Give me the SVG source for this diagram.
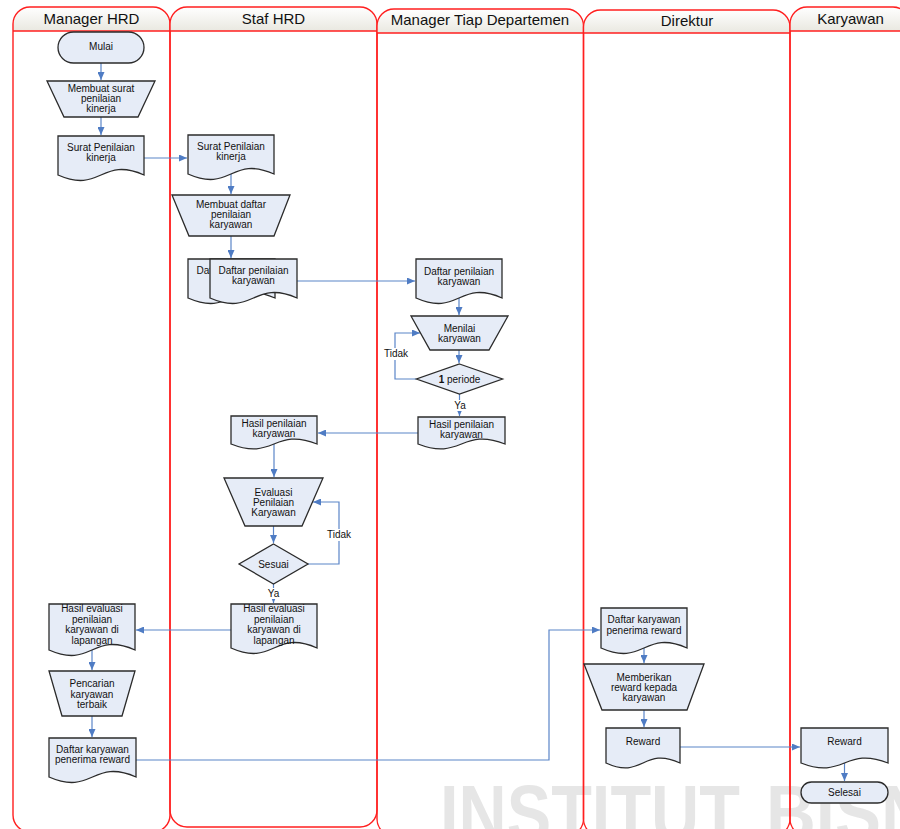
<svg xmlns="http://www.w3.org/2000/svg" width="900" height="829" viewBox="0 0 900 829">
<defs>
<linearGradient id="hg" x1="0" y1="0" x2="0" y2="1">
<stop offset="0" stop-color="#ffffff"/>
<stop offset="1" stop-color="#e9e8e0"/>
</linearGradient>
<marker id="ah" viewBox="0 0 8 7" refX="8" refY="3.5" markerWidth="8" markerHeight="7" markerUnits="userSpaceOnUse" orient="auto">
<path d="M0,0 L8,3.5 L0,7 z" fill="#4f7cc4"/>
</marker>
<style>
.hdr{fill:url(#hg);stroke:none}
.lane{fill:none;stroke:#ff1f1f;stroke-width:1.4}
.ht{font-family:"Liberation Sans",Arial,sans-serif;font-size:15px;fill:#111;text-anchor:middle}
.n{fill:#e6ecf7;stroke:#2b2b2b;stroke-width:1.3}
.t{font-family:"Liberation Sans",Arial,sans-serif;font-size:10px;fill:#111;text-anchor:middle}
.ca{fill:none;stroke:#5b85c8;stroke-width:1.2;marker-end:url(#ah)}
.lb{fill:#ffffff}
.wm{font-family:"Liberation Sans",Arial,sans-serif;font-weight:bold;font-size:80px;fill:#808080;fill-opacity:0.2}
</style>
</defs>
<rect width="900" height="829" fill="#ffffff"/>

<g id="watermark">
<text class="wm" x="440" y="841" textLength="300" lengthAdjust="spacingAndGlyphs">INSTITUT</text>
<text class="wm" x="766" y="841" textLength="230" lengthAdjust="spacingAndGlyphs">BISNIS</text>
</g>

<g id="lanes">
<g id="lane-manager-hrd">
<path class="hdr" d="M13 31V24A17 17 0 0 1 30 7H153A17 17 0 0 1 170 24V31Z"/>
<path class="lane" d="M13 24A17 17 0 0 1 30 7H153A17 17 0 0 1 170 24V815A17 17 0 0 1 153 832H30A17 17 0 0 1 13 815Z"/>
<path class="lane" d="M13 31H170"/>
<text class="ht" x="91.5" y="23.5">Manager HRD</text>
</g>
<g id="lane-staf-hrd">
<path class="hdr" d="M170 31V24A17 17 0 0 1 187 7H360A17 17 0 0 1 377 24V31Z"/>
<path class="lane" d="M170 24A17 17 0 0 1 187 7H360A17 17 0 0 1 377 24V810A17 17 0 0 1 360 827H187A17 17 0 0 1 170 810Z"/>
<path class="lane" d="M170 31H377"/>
<text class="ht" x="273.5" y="23.5">Staf HRD</text>
</g>
<g id="lane-manager-dept">
<path class="hdr" d="M377 33V26A17 17 0 0 1 394 9H566.5A17 17 0 0 1 583.5 26V33Z"/>
<path class="lane" d="M377 26A17 17 0 0 1 394 9H566.5A17 17 0 0 1 583.5 26V819A17 17 0 0 1 566.5 836H394A17 17 0 0 1 377 819Z"/>
<path class="lane" d="M377 33H583.5"/>
<text class="ht" x="480" y="25">Manager Tiap Departemen</text>
</g>
<g id="lane-direktur">
<path class="hdr" d="M583.5 33V27A17 17 0 0 1 600.5 10H773A17 17 0 0 1 790 27V33Z"/>
<path class="lane" d="M583.5 27A17 17 0 0 1 600.5 10H773A17 17 0 0 1 790 27V819A17 17 0 0 1 773 836H600.5A17 17 0 0 1 583.5 819Z"/>
<path class="lane" d="M583.5 33H790"/>
<text class="ht" x="687" y="26">Direktur</text>
</g>
<g id="lane-karyawan">
<path class="hdr" d="M790 31V24A17 17 0 0 1 807 7H893A17 17 0 0 1 910 24V31Z"/>
<path class="lane" d="M790 24A17 17 0 0 1 807 7H893A17 17 0 0 1 910 24V819A17 17 0 0 1 893 836H807A17 17 0 0 1 790 819Z"/>
<path class="lane" d="M790 31H910"/>
<text class="ht" x="850.5" y="24">Karyawan</text>
</g>
</g>

<g id="connectors">
<path class="ca" d="M101 63V80"/>
<path class="ca" d="M101 117V135"/>
<path class="ca" d="M144 158H187"/>
<path class="ca" d="M231 174V194"/>
<path class="ca" d="M231 236V258"/>
<path class="ca" d="M297 281H415"/>
<path class="ca" d="M459 298V315"/>
<path class="ca" d="M459 350V363"/>
<path class="ca" d="M416.5 379H395V333H420"/>
<path class="ca" d="M459.5 394V416"/>
<path class="ca" d="M418 433H318"/>
<path class="ca" d="M274 444V477"/>
<path class="ca" d="M273.5 526V543"/>
<path class="ca" d="M308 564H339V502H313"/>
<path class="ca" d="M273.5 584V603"/>
<path class="ca" d="M231 630H136"/>
<path class="ca" d="M92 650V670"/>
<path class="ca" d="M92 716V737"/>
<path class="ca" d="M136 760H549V630H600"/>
<path class="ca" d="M644 648V663"/>
<path class="ca" d="M644 710V727"/>
<path class="ca" d="M680 747H800"/>
<path class="ca" d="M844.5 763V781"/>
<rect class="lb" x="383" y="348" width="26" height="12"/>
<text class="t" x="396" y="357">Tidak</text>
<rect class="lb" x="452" y="400" width="15" height="11"/>
<text class="t" x="460" y="409">Ya</text>
<rect class="lb" x="326" y="529" width="26" height="12"/>
<text class="t" x="339" y="538">Tidak</text>
<rect class="lb" x="266" y="588" width="15" height="11"/>
<text class="t" x="273.5" y="597">Ya</text>
</g>

<g id="mulai">
<rect class="n" x="58" y="32" width="86" height="31" rx="15.5"/>
<text class="t" x="101" y="50">Mulai</text>
</g>
<g id="membuat-surat">
<path class="n" d="M47 81H155L138 117H64Z"/>
<text class="t" x="101" y="92">Membuat surat</text>
<text class="t" x="101" y="102">penilaian</text>
<text class="t" x="101" y="112">kinerja</text>
</g>
<g id="surat-penilaian-1">
<path class="n" d="M58 136H144V175C101 156 101 194 58 175Z"/>
<text class="t" x="101" y="150.5">Surat Penilaian</text>
<text class="t" x="101" y="160.5">kinerja</text>
</g>
<g id="surat-penilaian-2">
<path class="n" d="M188 135H274V174C231 155 231 193 188 174Z"/>
<text class="t" x="231" y="150">Surat Penilaian</text>
<text class="t" x="231" y="160">kinerja</text>
</g>
<g id="membuat-daftar">
<path class="n" d="M172 195H290L274 236H189Z"/>
<text class="t" x="231" y="207.5">Membuat daftar</text>
<text class="t" x="231" y="218">penilaian</text>
<text class="t" x="231" y="228">karyawan</text>
</g>
<g id="daftar-penilaian-2">
<path class="n" d="M188 259H275V298C231.5 279 231.5 317 188 298Z"/>
<text class="t" x="231.5" y="274">Daftar penilaian</text>
<text class="t" x="231.5" y="284">karyawan</text>
<path class="n" d="M210 259H297V298C253.5 279 253.5 317 210 298Z"/>
<text class="t" x="253.5" y="274">Daftar penilaian</text>
<text class="t" x="253.5" y="284">karyawan</text>
</g>
<g id="daftar-penilaian-3">
<path class="n" d="M416 259H502V298C459 279 459 317 416 298Z"/>
<text class="t" x="459" y="274.5">Daftar penilaian</text>
<text class="t" x="459" y="284.5">karyawan</text>
</g>
<g id="menilai">
<path class="n" d="M411 316H508L489 350H430Z"/>
<text class="t" x="459.5" y="331.5">Menilai</text>
<text class="t" x="459.5" y="341.5">karyawan</text>
</g>
<g id="periode">
<path class="n" d="M459.5 364L502.5 379L459.5 394L416.5 379Z"/>
<text class="t" x="459.5" y="382.5"><tspan font-weight="bold">1</tspan> periode</text>
</g>
<g id="hasil-penilaian-3">
<path class="n" d="M418 417H505V444C461.5 427 461.5 461 418 444Z"/>
<text class="t" x="461.5" y="428">Hasil penilaian</text>
<text class="t" x="461.5" y="438">karyawan</text>
</g>
<g id="hasil-penilaian-2">
<path class="n" d="M231 416H317V444C274 427 274 461 231 444Z"/>
<text class="t" x="274" y="426.5">Hasil penilaian</text>
<text class="t" x="274" y="437">karyawan</text>
</g>
<g id="evaluasi">
<path class="n" d="M224 478H323L302 526H245Z"/>
<text class="t" x="273.5" y="495.5">Evaluasi</text>
<text class="t" x="273.5" y="506">Penilaian</text>
<text class="t" x="273.5" y="516">Karyawan</text>
</g>
<g id="sesuai">
<path class="n" d="M273.5 544L308 564L273.5 584L239 564Z"/>
<text class="t" x="273.5" y="568">Sesuai</text>
</g>
<g id="hasil-evaluasi-2">
<path class="n" d="M231 604H317V648C274 629 274 667 231 648Z"/>
<text class="t" x="274" y="612">Hasil evaluasi</text>
<text class="t" x="274" y="622.7">penilaian</text>
<text class="t" x="274" y="633.3">karyawan di</text>
<text class="t" x="274" y="644">lapangan</text>
</g>
<g id="hasil-evaluasi-1">
<path class="n" d="M49 604H135V650C92 631 92 669 49 650Z"/>
<text class="t" x="92" y="612">Hasil evaluasi</text>
<text class="t" x="92" y="622.5">penilaian</text>
<text class="t" x="92" y="633">karyawan di</text>
<text class="t" x="92" y="643.5">lapangan</text>
</g>
<g id="pencarian">
<path class="n" d="M49 671H135L122 716H62Z"/>
<text class="t" x="92" y="687">Pencarian</text>
<text class="t" x="92" y="697.5">karyawan</text>
<text class="t" x="92" y="707.5">terbaik</text>
</g>
<g id="daftar-karyawan-1">
<path class="n" d="M49 738H136V777C92.5 758 92.5 796 49 777Z"/>
<text class="t" x="92.5" y="753">Daftar karyawan</text>
<text class="t" x="92.5" y="763">penerima reward</text>
</g>
<g id="daftar-karyawan-4">
<path class="n" d="M601 608H687V648C644 629 644 667 601 648Z"/>
<text class="t" x="644" y="623">Daftar karyawan</text>
<text class="t" x="644" y="633.5">penerima reward</text>
</g>
<g id="memberikan">
<path class="n" d="M584 664H704L687 710H602Z"/>
<text class="t" x="644" y="680.5">Memberikan</text>
<text class="t" x="644" y="691">reward kepada</text>
<text class="t" x="644" y="701">karyawan</text>
</g>
<g id="reward-4">
<path class="n" d="M606 728H680V763C643 746 643 780 606 763Z"/>
<text class="t" x="643" y="745">Reward</text>
</g>
<g id="reward-5">
<path class="n" d="M801 728H888V763C844.5 746 844.5 780 801 763Z"/>
<text class="t" x="844.5" y="745">Reward</text>
</g>
<g id="selesai">
<rect class="n" x="801" y="782" width="87" height="21" rx="10.5"/>
<text class="t" x="844.5" y="796">Selesai</text>
</g>
</svg>
